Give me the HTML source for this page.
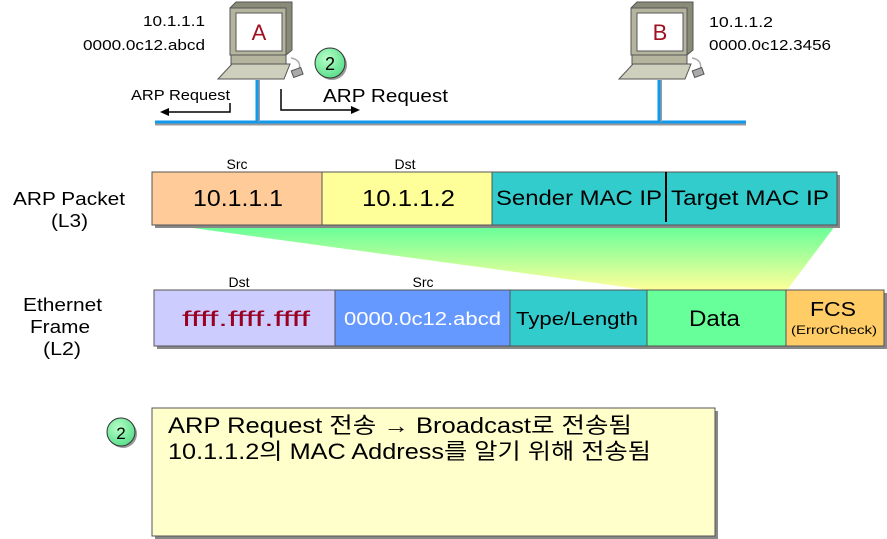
<!DOCTYPE html>
<html><head><meta charset="utf-8"><style>
body{margin:0;background:#fff;}
svg{display:block;font-family:"Liberation Sans","Noto Sans CJK KR",sans-serif;}
</style></head><body>
<svg width="887" height="539" viewBox="0 0 887 539" xmlns="http://www.w3.org/2000/svg">
<defs>
<linearGradient id="g" x1="0" y1="0" x2="0" y2="1">
<stop offset="0" stop-color="#66ff99"/><stop offset="1" stop-color="#ffff99"/>
</linearGradient>
<radialGradient id="c" cx="0.4" cy="0.35" r="0.7">
<stop offset="0" stop-color="#b8ffc8"/><stop offset="1" stop-color="#55dd88"/>
</radialGradient>
</defs>
<line x1="155" y1="124" x2="746" y2="124" stroke="#999" stroke-width="3"/>
<line x1="155" y1="122" x2="746" y2="122" stroke="#1199ee" stroke-width="3"/>
<line x1="259" y1="80" x2="259" y2="122" stroke="#999" stroke-width="2"/>
<line x1="257" y1="80" x2="257" y2="122" stroke="#1199ee" stroke-width="3"/>
<line x1="661" y1="80" x2="661" y2="122" stroke="#999" stroke-width="2"/>
<line x1="659" y1="80" x2="659" y2="122" stroke="#1199ee" stroke-width="3"/>
<g>
<polygon points="230,8 236,2 292,2 292,50 286,55 230,55" fill="#8a8a78" stroke="#555"/>
<rect x="230" y="8" width="56" height="47" fill="#b5b59f" stroke="#555"/>
<rect x="236" y="13" width="46" height="38" fill="#fff" stroke="#555"/>
<rect x="231" y="55" width="55" height="9" fill="#b5b59f" stroke="#555"/>
<polygon points="232,64 290,64 284,79 218,79" fill="#cfcfbd" stroke="#555"/>
<path d="M291,58 Q302,60 299,70" fill="none" stroke="#aaa" stroke-width="1.5"/>
<rect x="292" y="69" width="10" height="7" fill="#aaa" stroke="#555" transform="rotate(-20 297 72)"/>
</g>
<text x="259" y="40" font-size="22" fill="#a01020" text-anchor="middle">A</text>
<g transform="translate(401,0)">
<polygon points="230,8 236,2 292,2 292,50 286,55 230,55" fill="#8a8a78" stroke="#555"/>
<rect x="230" y="8" width="56" height="47" fill="#b5b59f" stroke="#555"/>
<rect x="236" y="13" width="46" height="38" fill="#fff" stroke="#555"/>
<rect x="231" y="55" width="55" height="9" fill="#b5b59f" stroke="#555"/>
<polygon points="232,64 290,64 284,79 218,79" fill="#cfcfbd" stroke="#555"/>
<path d="M291,58 Q302,60 299,70" fill="none" stroke="#aaa" stroke-width="1.5"/>
<rect x="292" y="69" width="10" height="7" fill="#aaa" stroke="#555" transform="rotate(-20 297 72)"/>
</g>
<text x="660" y="40" font-size="22" fill="#a01020" text-anchor="middle">B</text>
<g font-size="15" lengthAdjust="spacingAndGlyphs">
<text x="143" y="26" textLength="62" lengthAdjust="spacingAndGlyphs">10.1.1.1</text>
<text x="83" y="50" textLength="122" lengthAdjust="spacingAndGlyphs">0000.0c12.abcd</text>
<text x="709" y="27" textLength="64" lengthAdjust="spacingAndGlyphs">10.1.1.2</text>
<text x="709" y="50" textLength="122" lengthAdjust="spacingAndGlyphs">0000.0c12.3456</text>
</g>
<circle cx="332" cy="65" r="15" fill="#999"/>
<circle cx="330" cy="63" r="15" fill="url(#c)" stroke="#333"/>
<text x="330" y="70" font-size="18" text-anchor="middle">2</text>
<text x="131" y="100" font-size="15" textLength="99" lengthAdjust="spacingAndGlyphs">ARP Request</text>
<polyline points="230,103 230,112 168,112" fill="none" stroke="#000" stroke-width="1.5"/>
<polygon points="160,112 169,108 169,116" fill="#000"/>
<text x="323" y="102" font-size="18" textLength="125" lengthAdjust="spacingAndGlyphs">ARP  Request</text>
<polyline points="281,89 281,110 352,110" fill="none" stroke="#000" stroke-width="1.5"/>
<polygon points="360,110 351,106 351,114" fill="#000"/>
<polygon points="178,226 835,226 787,290 647,290" fill="url(#g)"/>
<text x="13" y="205" font-size="18" textLength="112" lengthAdjust="spacingAndGlyphs">ARP  Packet</text>
<text x="51" y="227" font-size="18" textLength="37" lengthAdjust="spacingAndGlyphs">(L3)</text>
<text x="237" y="169" font-size="14" text-anchor="middle">Src</text>
<text x="405" y="169" font-size="14" text-anchor="middle">Dst</text>
<rect x="155" y="175" width="685" height="53" fill="#888"/>
<rect x="152" y="172" width="170" height="53" fill="#ffcc99" stroke="#555"/>
<rect x="322" y="172" width="170" height="53" fill="#ffff99" stroke="#555"/>
<rect x="492" y="172" width="345" height="53" fill="#33cccc" stroke="#555"/>
<line x1="666" y1="172" x2="666" y2="222" stroke="#000" stroke-width="2"/>
<text x="193" y="206" font-size="23" textLength="90" lengthAdjust="spacingAndGlyphs">10.1.1.1</text>
<text x="362" y="206" font-size="23" textLength="93" lengthAdjust="spacingAndGlyphs">10.1.1.2</text>
<text x="579" y="205" font-size="21" text-anchor="middle" textLength="166" lengthAdjust="spacingAndGlyphs">Sender MAC IP</text>
<text x="750" y="205" font-size="21" text-anchor="middle" textLength="158" lengthAdjust="spacingAndGlyphs">Target MAC IP</text>
<text x="23" y="311" font-size="18" textLength="79" lengthAdjust="spacingAndGlyphs">Ethernet</text>
<text x="30" y="333" font-size="18" textLength="60" lengthAdjust="spacingAndGlyphs">Frame</text>
<text x="43" y="355" font-size="18" textLength="38" lengthAdjust="spacingAndGlyphs">(L2)</text>
<text x="239" y="287" font-size="14" text-anchor="middle">Dst</text>
<text x="423" y="287" font-size="14" text-anchor="middle">Src</text>
<rect x="157" y="293" width="730" height="56" fill="#888"/>
<rect x="154" y="290" width="181" height="56" fill="#ccccff" stroke="#555"/>
<rect x="335" y="290" width="175" height="56" fill="#6699ff" stroke="#555"/>
<rect x="510" y="290" width="137" height="56" fill="#33cccc" stroke="#555"/>
<rect x="647" y="290" width="139" height="56" fill="#66ff99" stroke="#555"/>
<rect x="786" y="290" width="98" height="56" fill="#ffcc66" stroke="#555"/>
<text x="182" y="326" font-size="21" fill="#990022" textLength="128" lengthAdjust="spacingAndGlyphs">ffff.ffff.ffff</text>
<text x="344" y="325" font-size="18" fill="#fff" textLength="157" lengthAdjust="spacingAndGlyphs">0000.0c12.abcd</text>
<text x="516" y="325" font-size="18" textLength="122" lengthAdjust="spacingAndGlyphs">Type/Length</text>
<text x="689" y="326" font-size="22" textLength="51" lengthAdjust="spacingAndGlyphs">Data</text>
<text x="810" y="316" font-size="20" textLength="46" lengthAdjust="spacingAndGlyphs">FCS</text>
<text x="791" y="334" font-size="12" textLength="86" lengthAdjust="spacingAndGlyphs">(ErrorCheck)</text>
<rect x="155" y="411" width="563" height="128" fill="#888"/>
<rect x="152" y="408" width="563" height="128" fill="#ffffcc" stroke="#555"/>
<circle cx="123" cy="434" r="14" fill="#999"/>
<circle cx="121" cy="432" r="14" fill="url(#c)" stroke="#333"/>
<text x="121" y="439" font-size="17" text-anchor="middle">2</text>
<text x="168" y="433" font-size="22" textLength="464" lengthAdjust="spacingAndGlyphs">ARP Request 전송 <tspan font-weight="bold">→</tspan> Broadcast로 전송됨</text>
<text x="168" y="459" font-size="22" textLength="483" lengthAdjust="spacingAndGlyphs">10.1.1.2의 MAC Address를 알기 위해 전송됨</text>
</svg>
</body></html>
